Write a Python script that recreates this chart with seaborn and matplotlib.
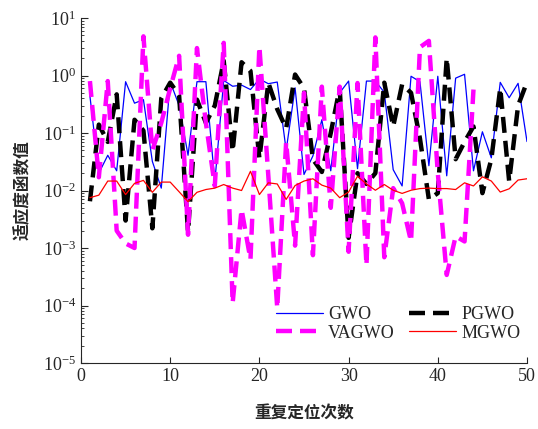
import numpy as np
import pandas as pd
import matplotlib
matplotlib.use("Agg")
import matplotlib.pyplot as plt
import seaborn as sns

runs = list(range(1, 51))
runs_vagwo = list(range(1, 45))

gwo = [0.44, 0.020, 0.041, 0.022, 0.78, 0.33, 0.38, 0.032, 0.011, 0.78,
       0.30, 0.041, 0.78, 0.78, 0.014, 0.82, 0.65, 0.68, 0.57, 0.87,
       0.72, 0.77, 0.05, 0.61, 0.019, 0.04, 0.17, 0.022, 0.5, 0.8,
       0.024, 0.8, 0.8, 0.51, 0.023, 0.012, 0.97, 0.78, 0.027, 0.97,
       0.018, 0.9, 1.05, 0.022, 0.105, 0.037, 0.76, 0.41, 0.73, 0.071]

pgwo = [0.0065, 0.14, 0.07, 0.47, 0.003, 0.17, 0.11, 0.0022, 0.4, 0.75,
        0.45, 0.0019, 0.38, 0.15, 0.3, 1.8, 0.048, 1.7, 1.2, 0.036,
        0.75, 0.26, 0.12, 1.04, 0.6, 0.035, 0.021, 0.1, 0.6, 0.0015,
        0.02, 0.013, 0.02, 0.75, 0.13, 0.7, 0.5, 0.08, 0.007, 0.009,
        2.0, 0.035, 0.07, 0.13, 0.009, 0.035, 0.6, 0.0145, 0.3, 0.77]

vagwo = [0.8, 0.017, 0.8, 0.002, 0.0012, 0.001, 4.8, 0.05, 0.15, 0.6,
         2.2, 0.0017, 3.0, 0.15, 0.012, 3.7, 0.00011, 0.0047, 0.00063, 3.2,
         0.018, 0.00009, 0.07, 0.0011, 0.5, 0.00075, 0.64, 0.005, 0.64, 0.00086,
         0.74, 0.0005, 4.6, 0.00069, 0.011, 0.006, 0.0013, 3.1, 4.0, 0.02,
         0.00034, 0.0016, 0.0013, 0.57]

mgwo = [0.0075, 0.0083, 0.0146, 0.0146, 0.0085, 0.0133, 0.015, 0.0093, 0.014, 0.014,
        0.0095, 0.0064, 0.0093, 0.0104, 0.011, 0.0127, 0.011, 0.010, 0.0216, 0.0085,
        0.0136, 0.013, 0.007, 0.0122, 0.0146, 0.016, 0.0124, 0.011, 0.0075, 0.0094,
        0.0177, 0.013, 0.0101, 0.0127, 0.0101, 0.0089, 0.0101, 0.0108, 0.011, 0.0108,
        0.0108, 0.0104, 0.0136, 0.012, 0.0173, 0.0146, 0.0094, 0.0107, 0.0152, 0.016]

series_names = ["GWO", "PGWO", "VAGWO", "MGWO"]
x_label = "重复定位次数"
y_label = "适应度函数值"

sns.set_style("ticks")
plt.rcParams["font.family"] = ["Liberation Serif", "Noto Sans CJK SC", "DejaVu Sans"]
plt.rcParams["mathtext.fontset"] = "stix"

fig = plt.figure(figsize=(5.38, 4.29), dpi=100)
ax = fig.add_axes([81/538, 1-363/429, (527-81)/538, (363-18)/429])

sns.lineplot(x=runs, y=gwo, ax=ax, color="#0000FF", lw=0.9, label=series_names[0])
sns.lineplot(x=runs, y=pgwo, ax=ax, color="black", lw=3.2, ls="--", label=series_names[1])
sns.lineplot(x=runs_vagwo, y=vagwo, ax=ax, color="#FF00FF", lw=3.2, ls="--", label=series_names[2])
sns.lineplot(x=runs, y=mgwo, ax=ax, color="#FF0000", lw=0.9, label=series_names[3])
for ln in ax.lines[1:3]:
    ln.set_dashes((3.6, 1.8))

ax.set_yscale("log")
ax.set_ylim(1e-5, 1e1)
ax.set_xlim(0, 50)
ax.set_xticks([0, 10, 20, 30, 40, 50])
ax.tick_params(axis="both", which="both", direction="in", labelsize=13)
ax.tick_params(axis="y", which="major", length=5)
ax.tick_params(axis="y", which="minor", length=2.5)
ax.tick_params(axis="x", which="major", length=4)
sns.despine(ax=ax)

ax.set_xlabel(x_label, fontsize=12, fontweight="bold", family=["Noto Sans CJK SC"], labelpad=14)
ax.set_ylabel(y_label, fontsize=12, fontweight="bold", family=["Noto Sans CJK SC"], labelpad=8)

handles, labels = ax.get_legend_handles_labels()
order = [0, 2, 1, 3]
leg = ax.legend([handles[i] for i in order], [labels[i] for i in order],
                ncol=2, loc="lower right", bbox_to_anchor=(1.01, 0.03), frameon=False,
                fontsize=13, handlelength=2.6, columnspacing=0.8, handletextpad=0.3,
                labelspacing=0.1, borderaxespad=0.2)

fig.savefig("out.png", dpi=100)
